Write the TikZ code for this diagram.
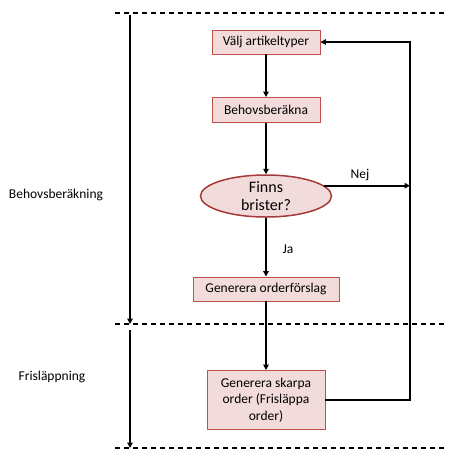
\documentclass[tikz,border=0pt]{standalone}
\usepackage{fontspec}
\setmainfont{Carlito}
\usetikzlibrary{arrows.meta,shapes.geometric}
\definecolor{boxfill}{HTML}{F2DCDB}
\definecolor{boxline}{HTML}{C0504D}
\definecolor{ellline}{HTML}{A33A37}

\begin{document}
\begin{tikzpicture}[x=1pt,y=-1pt,
    every node/.style={font=\fontsize{13.5}{16.5}\selectfont},
    stepbox/.style={draw=boxline,fill=boxfill,line width=0.9pt,minimum height=24pt,inner sep=2pt},
    decision/.style={ellipse,draw=ellline,fill=boxfill,line width=1.5pt,minimum width=131pt,minimum height=42pt,inner sep=0pt,align=center,font=\fontsize{16}{17.5}\selectfont},
    arr/.style={line width=2pt,-{Triangle[length=5.5pt,width=5.5pt]}},
    phase/.style={line width=1.4pt,dash pattern=on 5pt off 4pt}]
    \useasboundingbox (0,0) rectangle (470,461);
    \draw[phase] (115,13) -- (445,13);
    \draw[phase] (115,324) -- (445,324);
    \draw[phase] (115,448) -- (445,448);
    \coordinate (topL) at (130,15);
    \coordinate (midL) at (130,324);
    \coordinate (midL2) at (130,330);
    \coordinate (botL) at (130,448);
    \draw[arr] (topL) -- (midL);
    \draw[arr] (midL2) -- (botL);
    \node (lblBehov) at (56,195) {Behovsberäkning};
    \node (lblFri) at (52,377) {Frisläppning};
    \node[stepbox,minimum width=108pt] (valj) at (266,42) {Välj artikeltyper};
    \node[stepbox,minimum width=108pt,minimum height=25pt] (behov) at (266,110) {Behovsberäkna};
    \node[decision] (finns) at (266,196) {Finns\\brister?};
    \node[stepbox,minimum width=146pt] (forslag) at (266,289) {Generera orderförslag};
    \node[stepbox,minimum width=118pt,minimum height=59pt,align=center] (skarpa) at (266,400) {Generera skarpa\\order (Frisläppa\\order)};
    \coordinate (loop) at (410,190);
    \draw[arr] (valj) -- (behov);
    \draw[arr] (behov) -- (finns);
    \draw[arr] (finns) -- (forslag);
    \draw[arr] (forslag) -- (skarpa);
    \draw[arr] (finns.10) -- (finns.10 -| loop);
    \draw[arr] (skarpa.east) -| (loop) |- (valj.east);
    \node (nej) at (360,175) {Nej};
    \node (ja) at (288,249) {Ja};
 \end{tikzpicture}
\end{document}
